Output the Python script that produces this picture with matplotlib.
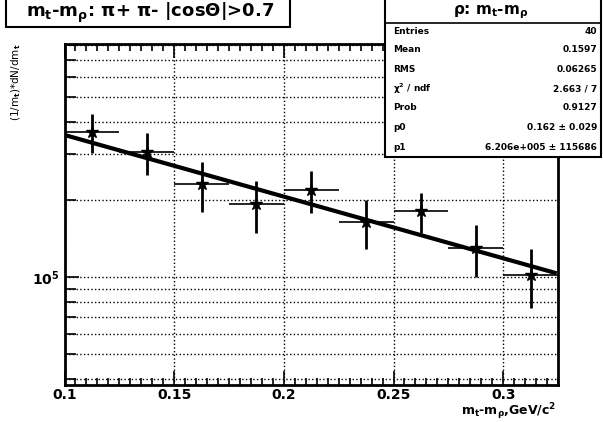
import matplotlib.pyplot as plt
import numpy as np
from matplotlib.patches import Rectangle
from matplotlib.ticker import MultipleLocator, LogLocator, NullFormatter, FormatStrFormatter

plt.rcParams['font.family'] = ['DejaVu Sans']
plt.rcParams['font.weight'] = 'bold'
plt.rcParams['mathtext.fontset'] = 'dejavusans'
plt.rcParams['mathtext.default'] = 'bf'

# bin centres (GeV/c^2) and contents
mt = [0.1125, 0.1375, 0.1625, 0.1875, 0.2125, 0.2375, 0.2625, 0.2875, 0.3125]
counts = [3.68e5, 3.07e5, 2.30e5, 1.92e5, 2.18e5, 1.64e5, 1.81e5, 1.30e5, 1.02e5]
errs = [0.63e5, 0.57e5, 0.51e5, 0.44e5, 0.40e5, 0.36e5, 0.32e5, 0.30e5, 0.26e5]
half_bin = 0.0125

# exponential fit drawn over the plot
fit_p1 = 6.206e5
fit_T = 0.181
fit_lo, fit_hi = 0.1, 0.3235

title = r'm$_t$-m$_\rho$: $\pi$+ $\pi$- |cos$\Theta$|>0.7'
stat_title = r'$\rho$: m$_t$-m$_\rho$'
stat_names = ['Entries', 'Mean', 'RMS', r'$\chi^2$ / ndf', 'Prob', 'p0', 'p1']
stat_vals = ['40', '0.1597', '0.06265', '2.663 / 7', '0.9127',
             '0.162 ± 0.029', '6.206e+005 ± 115686']

W, H = 603, 422
def fx(x): return x / W
def fy(y): return 1 - y / H

fig = plt.figure(figsize=(W / 100, H / 100), dpi=100)
ax = fig.add_axes([fx(64.5), fy(385), fx(558 - 64.5), (385 - 44) / H])

ax.set_yscale('log')
ax.set_xlim(0.1, 0.325)
ax.set_ylim(3.8e4, 8.07e5)

# vertical error bars thick, bin-width bars thin, as ROOT draws them
ax.errorbar(mt, counts, yerr=errs, fmt='none', ecolor='black', elinewidth=2, capsize=0, zorder=3)
ax.errorbar(mt, counts, xerr=half_bin, fmt='*', color='black', ms=9,
            elinewidth=1.2, capsize=0, zorder=3)

xf = np.linspace(fit_lo, fit_hi, 100)
ax.plot(xf, fit_p1 * np.exp(-xf / fit_T), color='black', lw=3, zorder=4)

ax.xaxis.set_major_locator(MultipleLocator(0.05))
ax.xaxis.set_minor_locator(MultipleLocator(0.005))
ax.xaxis.set_major_formatter(FormatStrFormatter('%g'))
ax.set_yticks([1e5])
ax.set_yticklabels([r'10$^5$'])
ax.yaxis.set_minor_locator(LogLocator(base=10, subs=np.arange(2, 10)))
ax.yaxis.set_minor_formatter(NullFormatter())
ax.grid(True, which='major', axis='x', ls=':', color='black', lw=1)
ax.grid(True, which='both', axis='y', ls=':', color='black', lw=1)
ax.tick_params(which='both', direction='in', top=True, labelsize=10, width=1.2)
ax.tick_params(which='major', length=10)
ax.tick_params(which='minor', length=5)
ax.tick_params(axis='y', which='minor', length=8)
ax.tick_params(axis='x', pad=2)
for s in ax.spines.values():
    s.set_linewidth(2)

fig.text(fx(556), fy(412), r'm$_t$-m$_\rho$,GeV/c$^2$', fontsize=9, ha='right', va='center')
fig.text(fx(16), fy(82), r'(1/m$_t$)*dN/dm$_t$', rotation=90, fontsize=7.5,
         ha='center', va='center', fontweight='normal')

# title pave
fig.patches.append(Rectangle((fx(6), fy(27)), fx(290 - 6), 30 / H, transform=fig.transFigure,
                             facecolor='white', edgecolor='black', lw=1.5, zorder=5))
fig.text(fx(150), fy(13), title, fontsize=13, ha='center', va='center', zorder=6)

# stats pave
fig.patches.append(Rectangle((fx(385), fy(157)), fx(601 - 385), 160 / H, transform=fig.transFigure,
                             facecolor='white', edgecolor='black', lw=1.5, zorder=5))
fig.lines.append(plt.Line2D([fx(385), fx(601)], [fy(23), fy(23)], transform=fig.transFigure,
                            color='black', lw=1.2, zorder=6))
fig.text(fx(491), fy(12), stat_title, fontsize=11, ha='center', va='center', zorder=6)
row_y = [32, 50, 70, 89, 108, 128, 147]
for name, val, y in zip(stat_names, stat_vals, row_y):
    fig.text(fx(393), fy(y), name, fontsize=6.5, ha='left', va='center', zorder=6)
    fig.text(fx(597), fy(y), val, fontsize=6.5, ha='right', va='center', zorder=6)

fig.savefig('out.png', dpi=100)
